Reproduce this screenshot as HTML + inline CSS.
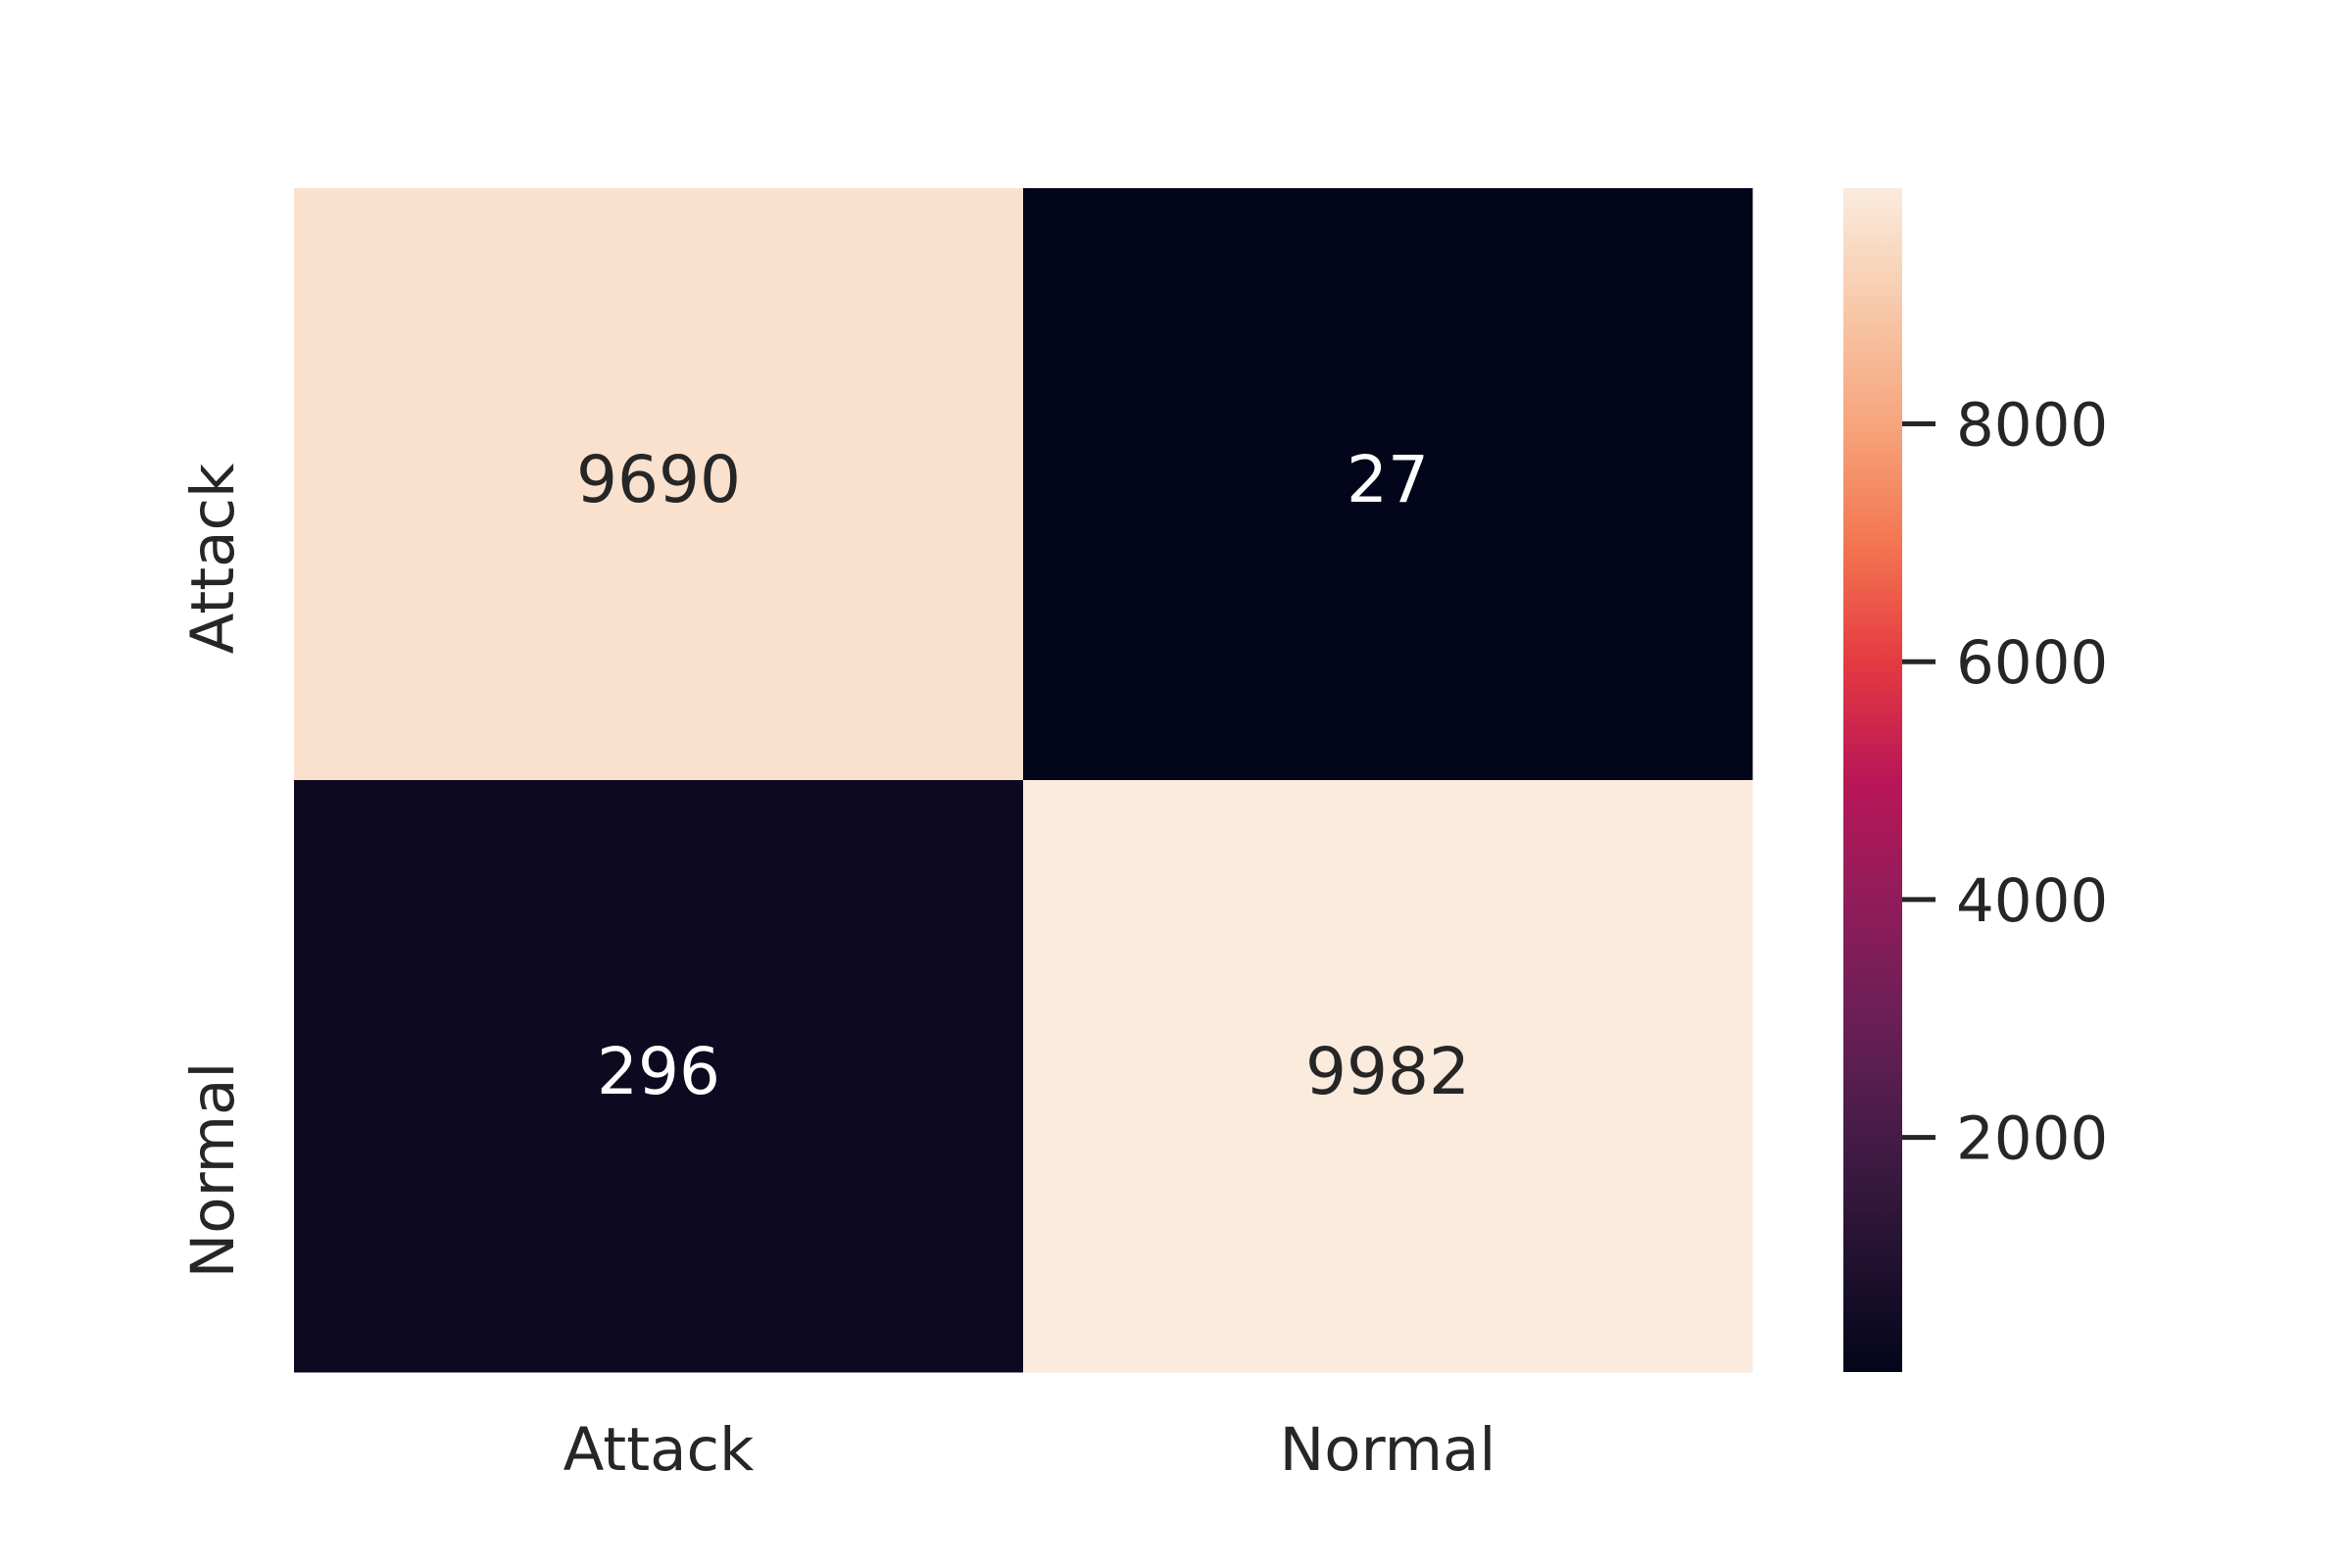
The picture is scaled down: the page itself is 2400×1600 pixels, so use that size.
<!DOCTYPE html>
<html><head><meta charset="utf-8"><style>
html,body{margin:0;padding:0;background:#fff;}
svg{display:block;}
text{font-family:"DejaVu Sans","Liberation Sans",sans-serif;}
</style></head><body>
<svg id="chart" width="2400" height="1600" viewBox="0 0 2400 1600" xmlns="http://www.w3.org/2000/svg">
<defs>
<linearGradient id="rocket" x1="0" y1="1" x2="0" y2="0"></linearGradient>
</defs>
<g id="cells"></g>
<g id="ylabels"></g>
<g id="xlabels"></g>
<rect x="1881" y="192" width="60" height="1208" fill="url(#rocket)"/>
<g id="cbticks"></g>
</svg>
<script>
const rowLabels = ["Attack", "Normal"];
const colLabels = ["Attack", "Normal"];
const row0 = [9690, 27];
const row1 = [296, 9982];
const cbTicks = [2000, 4000, 6000, 8000];
const cbTickLabels = ["2000", "4000", "6000", "8000"];

const NS = "http://www.w3.org/2000/svg";
const L = 300, R = 1788, T = 192, B = 1400;
const CBX = 1881, CBW = 60;
const values = [row0, row1];
const all = values.flat();
const vmin = Math.min(...all), vmax = Math.max(...all);
const stops = [[0,"#03051a"],[0.1,"#231231"],[0.2,"#451c47"],[0.3,"#6b1f56"],[0.4,"#921c5b"],[0.5,"#b91657"],[0.6,"#e53a41"],[0.7,"#f37651"],[0.8,"#f6a47c"],[0.9,"#f7c9aa"],[1,"#faebdd"]];
function hex(h){return [1,3,5].map(i=>parseInt(h.substr(i,2),16));}
function cmap(t){
  t=Math.max(0,Math.min(1,t));
  for(let i=1;i<stops.length;i++){
    if(t<=stops[i][0]){
      const a=stops[i-1],b=stops[i];const f=(t-a[0])/(b[0]-a[0]);
      const ca=hex(a[1]),cb=hex(b[1]);
      return "rgb("+ca.map((c,k)=>Math.round(c+(cb[k]-c)*f)).join(",")+")";
    }
  }
  return stops[stops.length-1][1];
}
const grad=document.getElementById("rocket");
stops.forEach(s=>{const st=document.createElementNS(NS,"stop");st.setAttribute("offset",s[0]);st.setAttribute("stop-color",s[1]);grad.appendChild(st);});
const nC=colLabels.length,nR=rowLabels.length;
const cw=(R-L)/nC, ch=(B-T)/nR;
const xCell=j=>L+j*cw, yCell=i=>T+i*ch;
const yCb=v=>B-(v-vmin)/(vmax-vmin)*(B-T);
const cells=document.getElementById("cells");
values.forEach((row,i)=>row.forEach((v,j)=>{
  const t=(v-vmin)/(vmax-vmin);
  const r=document.createElementNS(NS,"rect");
  r.setAttribute("x",xCell(j));r.setAttribute("y",yCell(i));
  r.setAttribute("width",cw+0.5);r.setAttribute("height",ch+0.5);
  r.setAttribute("fill",cmap(t));
  
  
  cells.appendChild(r);
  const tx=document.createElementNS(NS,"text");
  tx.setAttribute("x",xCell(j)+cw/2);tx.setAttribute("y",yCell(i)+ch/2+18);
  tx.setAttribute("text-anchor","middle");tx.setAttribute("font-size","66");
  tx.setAttribute("fill",t>0.5?"#262626":"#ffffff");
  tx.textContent=v;
  
  
  cells.appendChild(tx);
}));
const yl=document.getElementById("ylabels");
rowLabels.forEach((lab,i)=>{
  const cy=yCell(i)+ch/2+76+20*i;
  const tx=document.createElementNS(NS,"text");
  tx.setAttribute("transform","translate(238,"+cy+") rotate(-90)");
  tx.setAttribute("text-anchor","middle");tx.setAttribute("font-size","61");tx.setAttribute("fill","#262626");
  tx.textContent=lab;
  
  
  yl.appendChild(tx);
});
const xl=document.getElementById("xlabels");
colLabels.forEach((lab,j)=>{
  const tx=document.createElementNS(NS,"text");
  tx.setAttribute("x",xCell(j)+cw/2);tx.setAttribute("y",1500);
  tx.setAttribute("text-anchor","middle");tx.setAttribute("font-size","61");tx.setAttribute("fill","#262626");
  tx.textContent=lab;
  
  
  xl.appendChild(tx);
});
const cbt=document.getElementById("cbticks");
cbTicks.forEach((v,k)=>{
  const y=yCb(v);
  const ln=document.createElementNS(NS,"line");
  ln.setAttribute("x1",CBX+CBW);ln.setAttribute("x2",CBX+CBW+34);ln.setAttribute("y1",y);ln.setAttribute("y2",y);
  ln.setAttribute("stroke","#262626");ln.setAttribute("stroke-width","5");
  
  
  cbt.appendChild(ln);
  const tx=document.createElementNS(NS,"text");
  tx.setAttribute("x",1996);tx.setAttribute("y",y+22);
  tx.setAttribute("font-size","61");tx.setAttribute("fill","#262626");
  tx.textContent=cbTickLabels[k];
  
  
  cbt.appendChild(tx);
});
</script>
</body></html>
